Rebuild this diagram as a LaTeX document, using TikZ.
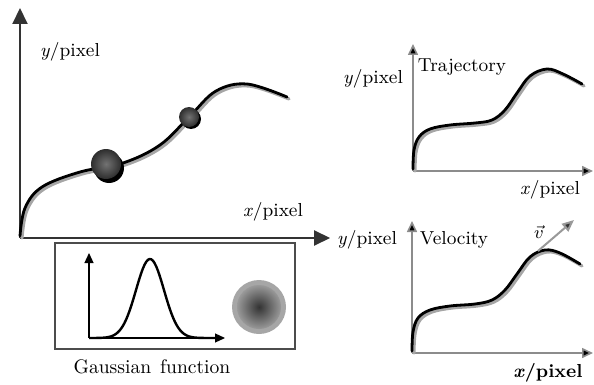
\documentclass[tikz,border=0pt]{standalone}
\usetikzlibrary{arrows.meta}

\begin{document}
\begin{tikzpicture}[x=0.5pt,y=-0.5pt,font=\fontsize{9.4}{11}\selectfont,
    bigaxis/.style={draw=black!80,line width=1pt,-{Triangle[length=8pt,width=7.5pt]}},
    smallaxis/.style={draw=black!45,line width=0.8pt,-{Triangle[length=5.5pt,width=5pt,fill=black]}},
    track/.style={black,line width=1.4pt,line cap=round},
    trackshadow/.style={black!35,line width=1.6pt,line cap=round,shift={(2,2)}}]
  \useasboundingbox (0,0) rectangle (594,385);
  % main plot
  \coordinate (o1) at (20,238);
  \coordinate (x1) at (330,238);
  \coordinate (y1) at (20,8);
  \draw[bigaxis,draw=black!30,shift={(1.5,1.5)}] (o1) -- (x1);
  \draw[bigaxis] (o1) -- (y1);
  \draw[bigaxis] (o1) -- (x1);
  \node (ylab1) at (70,52) {\textit{y}/pixel};
  \node (xlab1) at (273,212) {\textit{x}/pixel};
  \draw[trackshadow] plot[smooth,tension=0.6] coordinates {(20,236) (25,208) (42,187) (80,172) (123,163) (160,145) (190,116) (216,91) (247,84) (287,97)};
  \draw[track] plot[smooth,tension=0.6] coordinates {(20,236) (25,208) (42,187) (80,172) (123,163) (160,145) (190,116) (216,91) (247,84) (287,97)};
  \fill[black] (109,168) circle[radius=15];
  \shade[inner color=black!55,outer color=black!82] (106,164) circle[radius=15];
  \fill[black] (191,119) circle[radius=10];
  \shade[inner color=black!55,outer color=black!82] (189,117) circle[radius=10];
  % gaussian box
  \node[draw=black!70,line width=0.6pt,minimum width=120pt,minimum height=53pt,inner sep=0pt] (gbox) at (175,296) {};
  \coordinate (go) at (89,338);
  \draw[black,line width=0.6pt,-{Triangle[length=5pt,width=4.5pt]}] (go) -- (89,253);
  \draw[black,line width=0.6pt,-{Triangle[length=5pt,width=4.5pt]}] (go) -- (225,338);
  \draw[black,line width=1.2pt] plot[domain=89:222,samples=80] (\x,{338-79*exp(-((\x-150)^2)/(2*14^2))});
  \fill[black!35] (259,307) circle[radius=27];
  \shade[inner color=black!80,outer color=black!40] (259,307) circle[radius=22];
  \node[font=\fontsize{9.8}{12}\selectfont] (gauss) at (152,367) {Gaussian\hspace{0.45em}function};
  % trajectory plot
  \coordinate (o2) at (413,171);
  \draw[smallaxis] (o2) -- (413,44);
  \draw[smallaxis] (o2) -- (593,171);
  \node (ylab2) at (373,79) {\textit{y}/pixel};
  \node (traj) at (462,67) {Trajectory};
  \node (xlab2) at (550,190) {\textit{x}/pixel};
  \draw[trackshadow] plot[smooth,tension=0.6] coordinates {(413,169) (414,150) (419,137) (430,129) (450,125) (475,123) (492,120) (505,110) (517,93) (530,76) (547,69) (563,74) (582,84)};
  \draw[track] plot[smooth,tension=0.6] coordinates {(413,169) (414,150) (419,137) (430,129) (450,125) (475,123) (492,120) (505,110) (517,93) (530,76) (547,69) (563,74) (582,84)};
  % velocity plot
  \coordinate (o3) at (412,353);
  \draw[smallaxis] (o3) -- (412,221);
  \draw[smallaxis] (o3) -- (593,353);
  \node (ylab3) at (367,240) {\textit{y}/pixel};
  \node (velo) at (454,240) {Velocity};
  \node (xlab3) at (548,373) {\textbf{\textit{x}/pixel}};
  \draw[trackshadow] plot[smooth,tension=0.6] coordinates {(412,351) (413,332) (418,318) (430,310) (450,306) (475,304) (492,300) (505,290) (517,274) (530,257) (545,250) (560,253) (580,264)};
  \draw[track] plot[smooth,tension=0.6] coordinates {(412,351) (413,332) (418,318) (430,310) (450,306) (475,304) (492,300) (505,290) (517,274) (530,257) (545,250) (560,253) (580,264)};
  \coordinate (vbase) at (538,251);
  \coordinate (vtip) at (574,220);
  \draw[black!40,line width=1pt,-{Triangle[length=6pt,width=5pt,fill=black!80]}] (vbase) -- (vtip);
  \node (vlab) at (539,232) {$\vec{v}$};
\end{tikzpicture}
\end{document}
